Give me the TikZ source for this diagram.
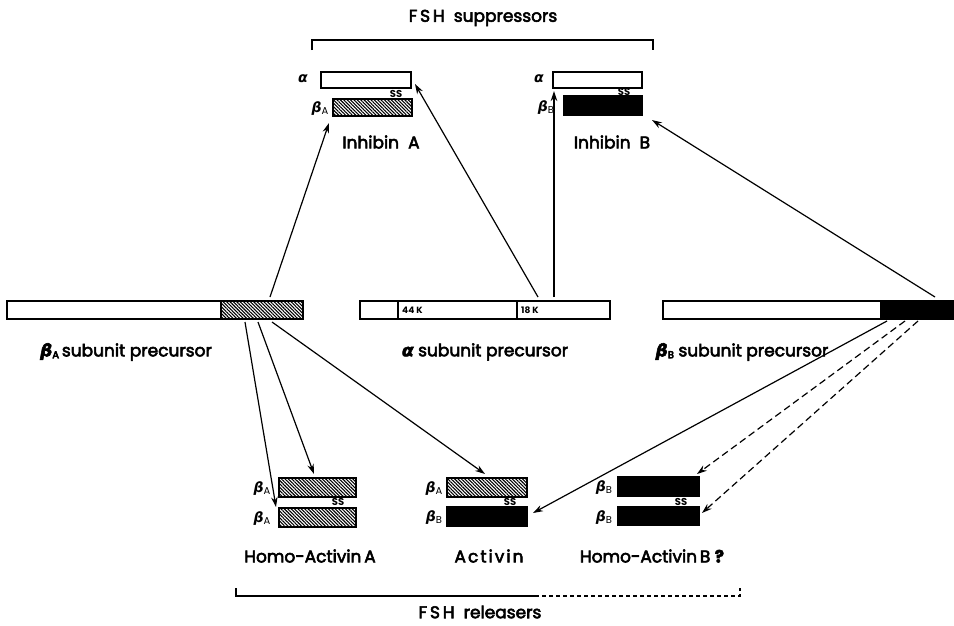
\documentclass[tikz,border=0pt]{standalone}
\usepackage{fontspec}
\setmainfont{Poppins}
\newfontfamily\grk{DejaVu Sans}
\usetikzlibrary{patterns,patterns.meta,arrows.meta}
\newcommand{\gal}{{\grk\bfseries\itshape α}}
\newcommand{\gbe}[1]{{\grk\bfseries\itshape β}\raisebox{-0.2ex}{\fontsize{10}{10}\selectfont #1}}
\newcommand{\heavyon}{\special{pdf:literal direct 2 Tr 0.55 w}}
\newcommand{\heavyoff}{\special{pdf:literal direct 0 Tr}}
\begin{document}
\begin{tikzpicture}[x=1pt,y=-1pt,
  bar/.style={draw, line width=1.2pt, inner sep=0pt, outer sep=0pt},
  hatchbar/.style={bar, pattern={Lines[angle=-45,distance=2.4pt,line width=1.1pt]}},
  blackbar/.style={bar, fill=black},
  lbl/.style={font=\fontsize{17}{19}\selectfont, inner sep=0pt,
    execute at begin node=\heavyon, execute at end node=\heavyoff},
  sslbl/.style={font=\fontsize{10}{10}\selectfont\bfseries, inner sep=0pt},
  smalllbl/.style={font=\fontsize{9}{9}\selectfont\bfseries, inner sep=0pt, anchor=west},
  greek/.style={font=\fontsize{14}{14}\selectfont, inner sep=0pt},
  arr/.style={line width=1.2pt, -{Stealth[length=10pt,width=6.5pt]}},
  darr/.style={arr, dash pattern=on 7pt off 4pt},
  brack/.style={line width=1.1pt}
]
\useasboundingbox (0,0) rectangle (954,625);

% ---------- title and top bracket ----------
\node[lbl] (title) at (483,18) {F\,S\,H\ \ suppressors};
\coordinate (tb1) at (312,50);
\coordinate (tb2) at (653,50);
\draw[brack] (tb1) -- ++(0,-10) -| (tb2);

% ---------- Inhibin A ----------
\node[bar, minimum width=90pt, minimum height=16pt] (iAa) at (366,80) {};
\node[hatchbar, minimum width=79pt, minimum height=17pt] (iAb) at (372.5,107.5) {};
\node[greek] (iAal) at (303,79) {\gal};
\node[greek] (iAbl) at (320,109) {\gbe{A}};
\node[sslbl] (iAss) at (396,94) {SS};
\node[lbl] (iAt) at (381,142) {Inhibin\ \ A};

% ---------- Inhibin B ----------
\node[bar, minimum width=89pt, minimum height=16pt] (iBa) at (597.5,80) {};
\node[blackbar, minimum width=78pt, minimum height=19pt] (iBb) at (603,105.5) {};
\node[greek] (iBal) at (539,79) {\gal};
\node[greek] (iBbl) at (546,108) {\gbe{B}};
\node[sslbl] (iBss) at (624,92) {SS};
\node[lbl] (iBt) at (612,142) {Inhibin\ \ B};

% ---------- precursors ----------
\node[bar, minimum width=214pt, minimum height=18pt] (pAw) at (114,310) {};
\node[hatchbar, minimum width=82pt, minimum height=18pt] (pAh) at (262,310) {};
\node[lbl] (pAt) at (126,352) {\gbe{A}\,subunit precursor};

\node[bar, minimum width=250pt, minimum height=18pt] (pa) at (485,310) {};
\draw[line width=1.1pt] (398,301) -- (398,319);
\draw[line width=1.1pt] (517,301) -- (517,319);
\node[smalllbl] (pa44) at (402,310) {44 K};
\node[smalllbl] (pa18) at (521,310) {18 K};
\node[lbl] (pat) at (485,352) {\gal\ subunit precursor};

\node[bar, minimum width=218pt, minimum height=18pt] (pBw) at (772,310) {};
\node[blackbar, minimum width=72pt, minimum height=18pt] (pBh) at (917,310) {};
\node[lbl] (pBt) at (742,352) {\gbe{B} subunit precursor};

% ---------- Homo-Activin A ----------
\node[hatchbar, minimum width=77pt, minimum height=19pt] (hA1) at (317.5,487.5) {};
\node[hatchbar, minimum width=77pt, minimum height=19pt] (hA2) at (317.5,517.5) {};
\node[greek] (hA1l) at (262,489) {\gbe{A}};
\node[greek] (hA2l) at (262,519) {\gbe{A}};
\node[sslbl] (hAss) at (338,502) {SS};
\node[lbl] (hAt) at (310,556) {Homo-Activin\,A};

% ---------- Activin ----------
\node[hatchbar, minimum width=80pt, minimum height=19pt] (ac1) at (487,487.5) {};
\node[blackbar, minimum width=80pt, minimum height=19pt] (ac2) at (487,516.5) {};
\node[greek] (ac1l) at (434,489) {\gbe{A}};
\node[greek] (ac2l) at (434,518) {\gbe{B}};
\node[sslbl] (acss) at (510,502) {SS};
\node[lbl] (act) at (489,556) {\addfontfeature{LetterSpace=12}Activin};

% ---------- Homo-Activin B ----------
\node[blackbar, minimum width=81pt, minimum height=19pt] (hB1) at (658.5,486.5) {};
\node[blackbar, minimum width=81pt, minimum height=19pt] (hB2) at (658.5,516) {};
\node[greek] (hB1l) at (604,488) {\gbe{B}};
\node[greek] (hB2l) at (604,518) {\gbe{B}};
\node[sslbl] (hBss) at (681,502) {SS};
\node[lbl] (hBt) at (652,556) {Homo-Activin\,B\ \textbf{?}};

% ---------- bottom bracket ----------
\node[lbl] (rel) at (480,612) {F\,S\,H\ \ releasers};
\coordinate (bb1) at (236,588);
\coordinate (bbm) at (535,596);
\coordinate (bb2) at (740,588);
\draw[brack] (bb1) |- (bbm);
\draw[brack, dash pattern=on 4pt off 3pt] (bbm) -| (bb2);

% ---------- arrow endpoints ----------
\coordinate (s1) at (270,297);
\coordinate (e1) at (329,123);
\coordinate (s2) at (538,297);
\coordinate (e2) at (415,84);
\coordinate (s3) at (554,297);
\coordinate (e3) at (554,91);
\coordinate (s4) at (935,297);
\coordinate (e4) at (652,120);
\coordinate (s5) at (245,322);
\coordinate (e5) at (276,507);
\coordinate (s6) at (258,322);
\coordinate (e6) at (314,474);
\coordinate (s7) at (272,322);
\coordinate (e7) at (485,474);
\coordinate (s8) at (887,321);
\coordinate (e8) at (533,513);
\coordinate (s9) at (905,321);
\coordinate (e9) at (697,474);
\coordinate (s10) at (918,321);
\coordinate (e10) at (702,513);

\draw[arr] (s1) -- (e1);
\draw[arr] (s2) -- (e2);
\draw[arr] (s3) -- (e3);
\draw[arr] (s4) -- (e4);
\draw[arr] (s5) -- (e5);
\draw[arr] (s6) -- (e6);
\draw[arr] (s7) -- (e7);
\draw[arr] (s8) -- (e8);
\draw[darr] (s9) -- (e9);
\draw[darr] (s10) -- (e10);
\end{tikzpicture}
\end{document}
